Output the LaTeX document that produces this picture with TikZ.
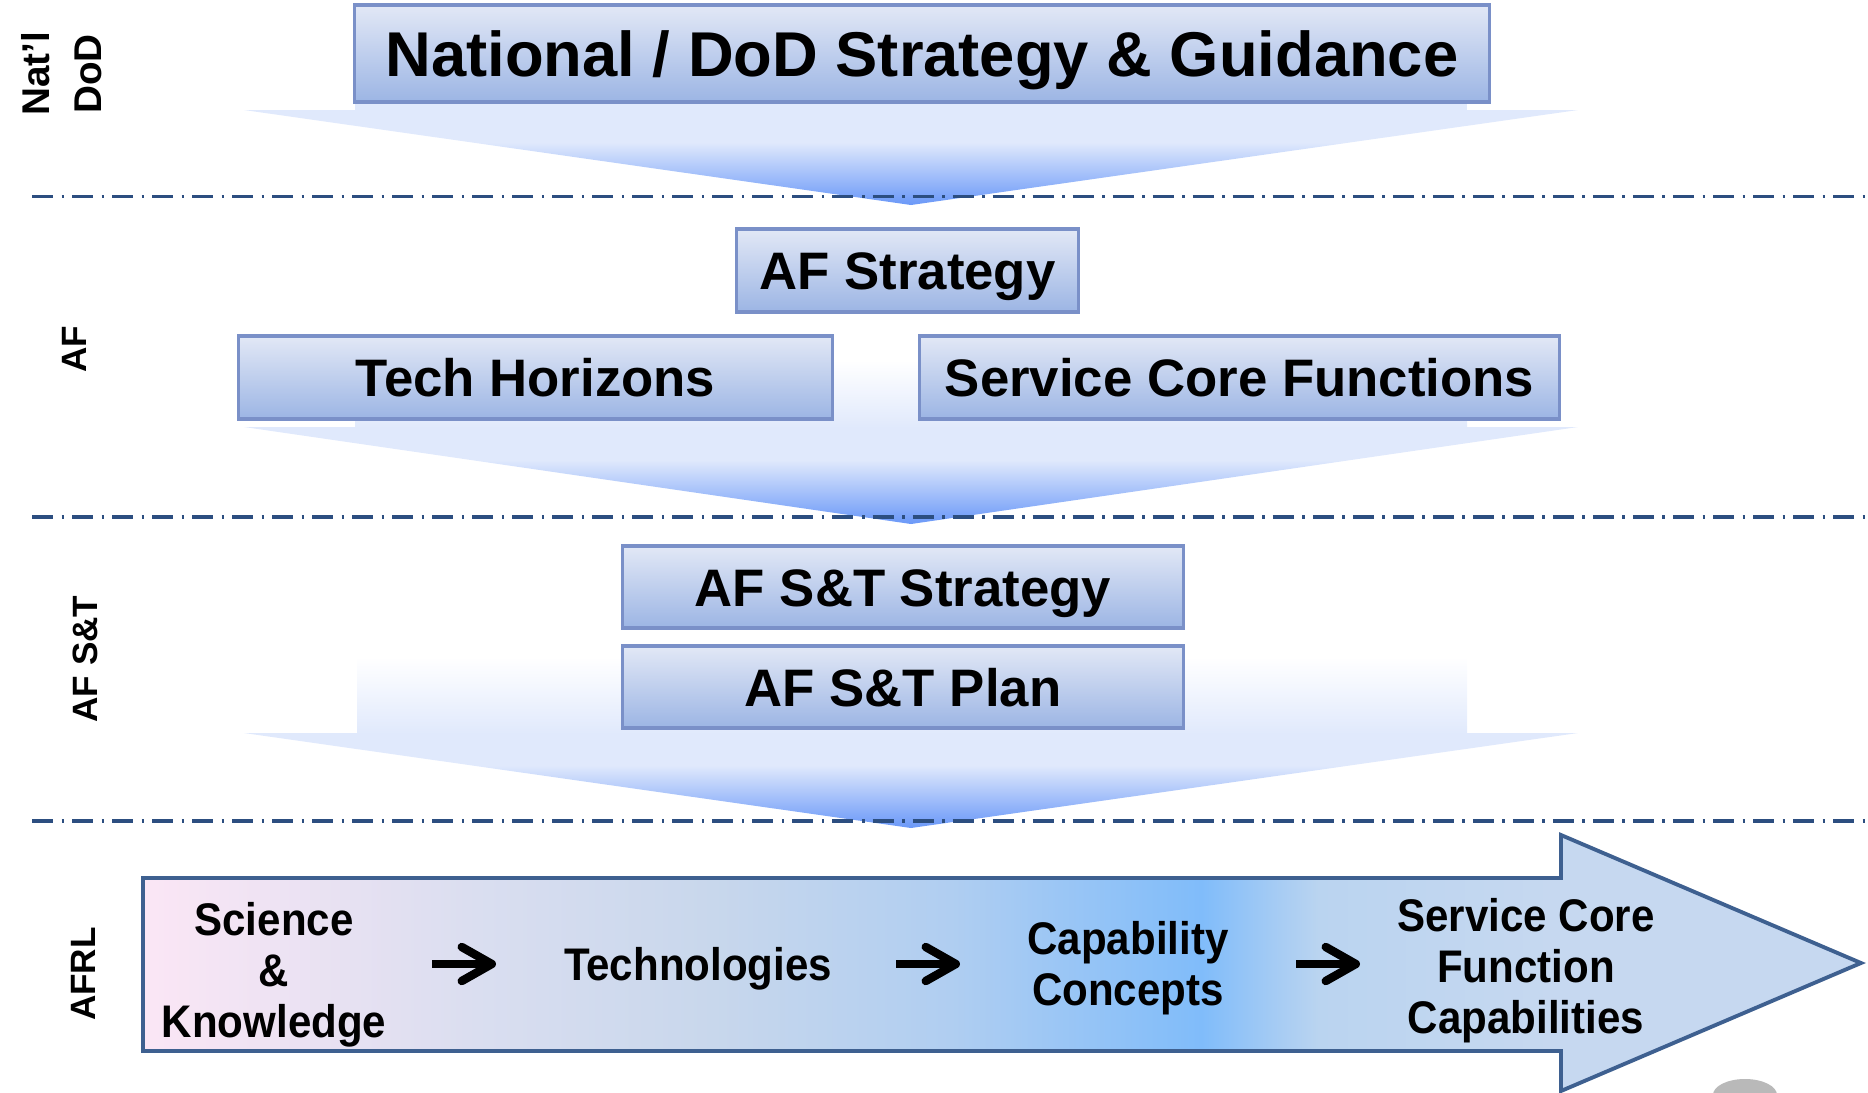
\documentclass[tikz,border=0pt]{standalone}
\usepackage{fontspec}
\setmainfont{Liberation Sans}
\newfontfamily\narrowfont[FakeStretch=0.92]{Liberation Sans}
\usetikzlibrary{arrows.meta}

\definecolor{boxtop}{RGB}{226,232,246}
\definecolor{boxbot}{RGB}{156,181,228}
\definecolor{boxline}{RGB}{122,144,200}
\definecolor{arrowlight}{RGB}{224,233,252}
\definecolor{tipblue}{RGB}{106,152,248}
\definecolor{sepline}{RGB}{44,78,128}
\definecolor{afrlline}{RGB}{62,96,144}
\colorlet{shaftmid}{arrowlight!45!white}
\definecolor{afa}{RGB}{251,230,245}
\definecolor{afb}{RGB}{218,222,240}
\definecolor{afc}{RGB}{200,215,236}
\definecolor{afd}{RGB}{176,206,241}
\definecolor{afe}{RGB}{128,188,250}
\definecolor{aff}{RGB}{186,212,240}
\definecolor{afg}{RGB}{198,216,240}

\pgfdeclareverticalshading{tipshade}{100bp}{color(0bp)=(tipblue); color(25bp)=(tipblue); color(58bp)=(arrowlight); color(100bp)=(arrowlight)}
\pgfdeclareverticalshading{shaftshade}{100bp}{color(0bp)=(arrowlight); color(25bp)=(arrowlight); color(45bp)=(shaftmid); color(62bp)=(white); color(100bp)=(white)}
\pgfdeclarehorizontalshading{afrlshade}{100bp}{color(0bp)=(afa); color(25bp)=(afa); color(34.7bp)=(afb); color(41.6bp)=(afc); color(48.5bp)=(afd); color(55.8bp)=(afe); color(59.2bp)=(aff); color(66bp)=(afg); color(100bp)=(afg)}

\begin{document}
\begin{tikzpicture}[x=0.01cm,y=-0.01cm,
    stbox/.style={draw=boxline, line width=0.9pt, top color=boxtop, bottom color=boxbot, inner sep=0pt, text height=10.8pt, text depth=0pt, font=\fontsize{15}{18}\selectfont\bfseries},
    lvl/.style={rotate=90, align=center, font=\fontsize{10}{13}\selectfont\bfseries},
    stage/.style={align=center, font=\narrowfont\fontsize{13}{14.5}\selectfont\bfseries},
    sep/.style={draw=sepline, line width=0.9pt, dash pattern=on 0.21cm off 0.085cm on 0.025cm off 0.08cm},
    flow/.style={line width=2.4pt, -{Straight Barb[length=3mm,width=3.4mm,round]}}]
    \useasboundingbox (0,0) rectangle (1868,1093);

    \fill[arrowlight] (355,60) rectangle (1467,111);
    \shade[shading=tipshade] (244,110) -- (1578,110) -- (911,205) -- cycle;
    \shade[shading=shaftshade] (355,336) rectangle (1467,428);
    \shade[shading=tipshade] (244,427) -- (1578,427) -- (911,524) -- cycle;
    \shade[shading=shaftshade] (357,630) rectangle (1467,734);
    \shade[shading=tipshade] (244,733) -- (1578,733) -- (911,828) -- cycle;

    \draw[sep] (32,196.6) -- (1868,196.6);
    \draw[sep] (32,517) -- (1868,517);
    \draw[sep] (32,821) -- (1868,821);

    \node(natl)[stbox, minimum width=11.34cm, minimum height=0.97cm, text height=13pt, font=\fontsize{18}{21}\selectfont\bfseries] at (922,53.5) {National / DoD Strategy \& Guidance};
    \node(afstrat)[stbox, minimum width=3.41cm, minimum height=0.83cm] at (907.5,270.5) {AF Strategy};
    \node(techhor)[stbox, minimum width=5.93cm, minimum height=0.83cm] at (535.5,377.5) {Tech Horizons};
    \node(scf)[stbox, minimum width=6.39cm, minimum height=0.83cm] at (1239.5,377.5) {Service Core Functions};
    \node(ststrat)[stbox, minimum width=5.6cm, minimum height=0.82cm] at (903,587) {AF S\&T Strategy};
    \node(stplan)[stbox, minimum width=5.6cm, minimum height=0.82cm] at (903,687) {AF S\&T Plan};

    \shade[shading=afrlshade, draw=afrlline, line width=1.1pt] (143,878) -- (1561,878) -- (1561,835) -- (1861,963) -- (1561,1091) -- (1561,1051) -- (143,1051) -- cycle;

    \node(lnatl)[lvl, font=\fontsize{11}{14.8}\selectfont\bfseries] at (62,74) {Nat’l\\DoD};
    \node(laf)[lvl] at (74,349) {AF};
    \node(last)[lvl] at (85,659) {AF S\&T};
    \node(lafrl)[lvl] at (83,974) {AFRL};

    \node(sk)[stage] at (274,975) {Science\\\&\\Knowledge};
    \node(tech)[stage] at (698,969) {Technologies};
    \node(capc)[stage] at (1128,968) {Capability\\Concepts};
    \node(scfc)[stage] at (1526,971) {Service Core\\Function\\Capabilities};

    \coordinate(f1a) at (432,964);
    \coordinate(f1b) at (496,964);
    \coordinate(f2a) at (896,964);
    \coordinate(f2b) at (960,964);
    \coordinate(f3a) at (1296,964);
    \coordinate(f3b) at (1360,964);
    \draw[flow] (f1a) -- (f1b);
    \draw[flow] (f2a) -- (f2b);
    \draw[flow] (f3a) -- (f3b);

    \fill[gray!55] (1745,1095) ellipse (0.32cm and 0.16cm);
\end{tikzpicture}
\end{document}
